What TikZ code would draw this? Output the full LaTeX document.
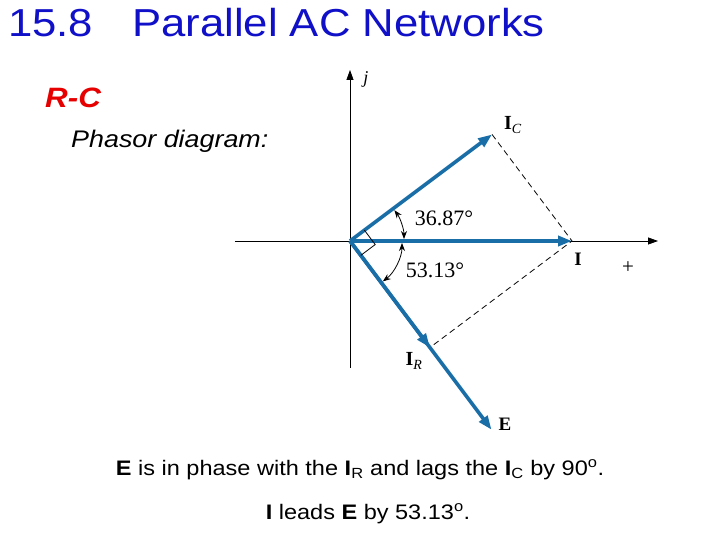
\documentclass[tikz,border=0pt]{standalone}
\usepackage{fontspec}
\setmainfont{Liberation Sans}[FakeStretch=1.12]
\newfontfamily\figfont{Liberation Serif}
\usetikzlibrary{arrows, arrows.meta}

\definecolor{phasorblue}{RGB}{26,110,168}
\definecolor{titleblue}{RGB}{16,16,200}
\definecolor{rcred}{RGB}{230,0,0}

\tikzset{
  vec/.style = {phasorblue, line width=3.6pt, -{Triangle[length=14pt,width=10pt]}},
  ax/.style = {line width=0.8pt, -{Triangle[length=10pt,width=7pt]}},
  proj/.style = {line width=0.8pt, dash pattern=on 6pt off 4pt},
  lbl/.style = {font=\figfont\fontsize{19}{21}\selectfont, inner sep=1pt},
  ang/.style = {font=\figfont\fontsize{22}{24}\selectfont, inner sep=0pt},
  slide/.style = {anchor=base west, inner sep=0pt}
}

\begin{document}
\begin{tikzpicture}[x=1pt, y=1pt, >={Stealth[length=8pt,width=6pt]}]
\useasboundingbox (-350,-299) rectangle (370,241);

% slide text
\node[slide, text=titleblue, font=\fontsize{39}{44}\selectfont] (title) at (-342,204) {15.8\quad Parallel AC Networks};
\node[slide, text=rcred, font=\fontsize{28}{32}\selectfont\bfseries\itshape] (rc) at (-305,133) {R-C};
\node[slide, font=\fontsize{24}{28}\selectfont\itshape] (caption) at (-279,93) {Phasor diagram:};

% axes and phasor tips
\coordinate (O) at (0,0);
\coordinate (xl) at (-115,0);
\coordinate (xr) at (308,0);
\coordinate (yb) at (0,-127);
\coordinate (yt) at (0,171);
\coordinate (I) at (222,0);
\coordinate (IC) at (36.87:177.6);
\coordinate (IR) at (-53.13:133.2);
\coordinate (E) at (-53.13:236);

\draw[ax] (xl) -- (xr);
\draw[ax] (yb) -- (yt);
\draw[proj] (IC) -- (I) -- (IR);

\path (O) edge[vec] (E);
\path (O) edge[vec] (IR);
\path (O) edge[vec] (IC);
\path (O) edge[vec] (I);

% right angle and angle arcs
\draw[line width=0.8pt] ([shift={(36.87:18)}]O) -- ++(-53.13:18) -- ([shift={(-53.13:18)}]O);
\draw[<->, line width=0.8pt, shorten <=2pt, shorten >=2pt] ([shift={(0:54)}]O) arc[start angle=0, end angle=36.87, radius=54];
\draw[<->, line width=0.8pt, shorten <=2pt, shorten >=2pt] ([shift={(0:52)}]O) arc[start angle=0, end angle=-53.13, radius=52];

% labels
\node[lbl, font=\figfont\itshape\fontsize{18}{20}\selectfont] (lj) at (16,162) {j};
\node[lbl, font=\figfont\fontsize{20}{22}\selectfont] (lIC) at (163,116) {\textbf{I}\textsubscript{\textit{C}}};
\node[lbl] (lI) at (228,-18) {\textbf{I}};
\node[lbl, font=\figfont\fontsize{21}{23}\selectfont] (plus) at (278,-27) {+};
\node[lbl, font=\figfont\fontsize{20}{22}\selectfont] (lIR) at (64,-120) {\textbf{I}\textsubscript{\textit{R}}};
\node[lbl] (lE) at (155,-183) {\textbf{E}};
\node[ang] (a1) at (94,23) {36.87°};
\node[ang] (a2) at (85,-29) {53.13°};

% statements
\node[anchor=base, inner sep=0pt, font=\fontsize{21}{24}\selectfont] (line1) at (10,-234)
  {\textbf{E} is in phase with the \textbf{I}\textsubscript{R} and lags the \textbf{I}\textsubscript{C} by 90\textsuperscript{o}.};
\node[anchor=base, inner sep=0pt, font=\fontsize{21}{24}\selectfont] (line2) at (18,-278)
  {\textbf{I} leads \textbf{E} by 53.13\textsuperscript{o}.};
\end{tikzpicture}
\end{document}
